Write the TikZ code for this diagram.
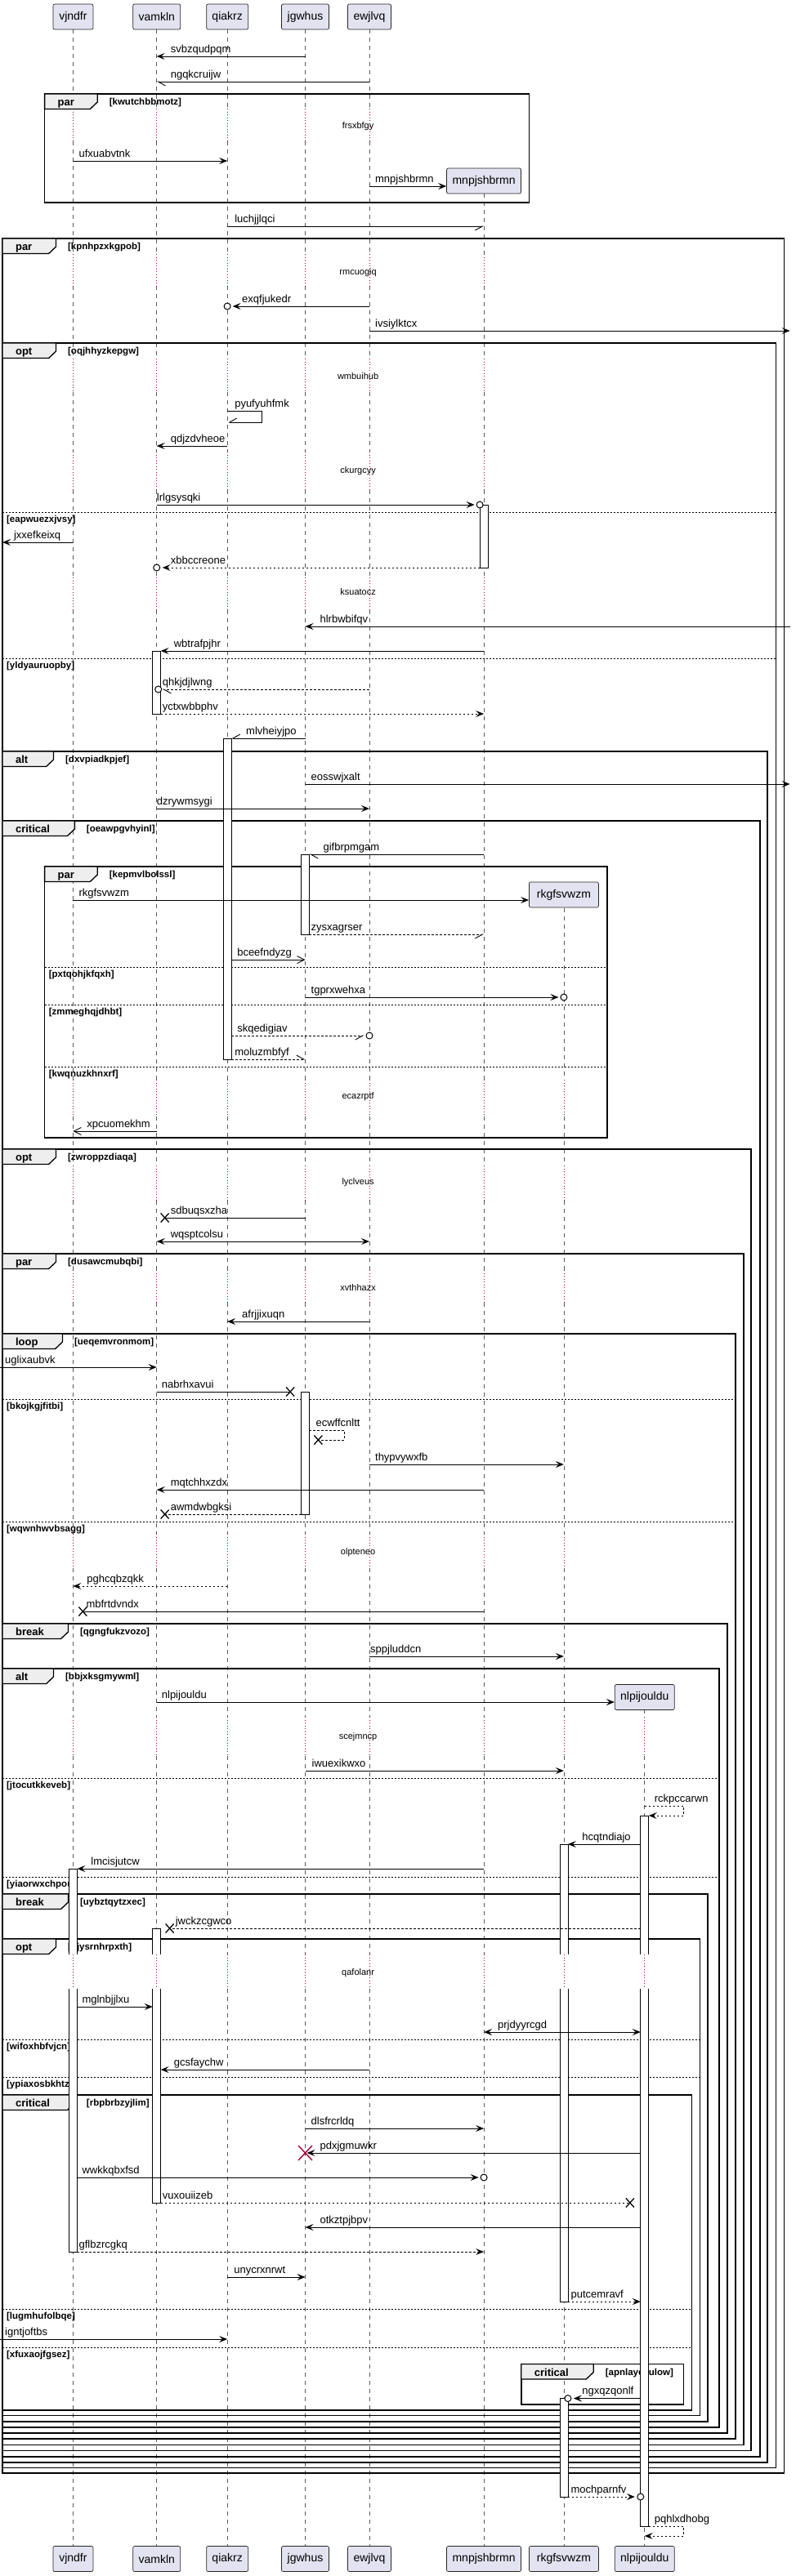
\documentclass[tikz,border=0pt]{standalone}
\usepackage{fontspec}
\setmainfont{Liberation Sans}
\usetikzlibrary{arrows.meta}
\definecolor{boxfill}{HTML}{E2E2F0}
\definecolor{tabfill}{HTML}{EEEEEE}
\definecolor{crim}{HTML}{A80036}
\newcommand\fpart{\fontsize{14}{16}\selectfont}
\newcommand\fmsg{\fontsize{13}{15}\selectfont}
\newcommand\fdel{\fontsize{11}{13}\selectfont}
\newcommand\fkw{\fontsize{13}{15}\selectfont\bfseries}
\newcommand\fcond{\fontsize{11.5}{13}\selectfont\bfseries}
\tikzset{
  tipF/.tip={Stealth[length=10pt,width=8pt,inset=4pt]},
  tipO/.tip={Straight Barb[length=9pt,width=9pt]},
  tipHL/.tip={Straight Barb[length=9pt,width=10pt,harpoon]},
  tipHR/.tip={Straight Barb[length=9pt,width=10pt,harpoon,swap]},
  lifel/.style={draw=black!65, line width=0.6pt, dash pattern=on 5pt off 5pt},
  delayl/.style={draw=crim, line width=0.8pt, dash pattern=on 1pt off 2.5pt},
  pbox/.style={draw=black!85, fill=boxfill, rounded corners=2pt, line width=0.7pt, font=\fpart, inner sep=0pt, minimum height=31pt},
  msg/.style={line width=0.9pt},
  dsh/.style={dash pattern=on 2.5pt off 2.5pt},
  lbl/.style={font=\fmsg, inner sep=0pt, anchor=base west},
  frm/.style={line width=1.5pt, draw=black},
  tabst/.style={line width=1.3pt, draw=black, fill=tabfill},
  kwst/.style={font=\fkw, inner sep=0pt, anchor=base west},
  condst/.style={font=\fcond, inner sep=0pt, anchor=base west},
  sepst/.style={line width=0.8pt, dash pattern=on 2pt off 2pt},
  barst/.style={line width=0.7pt, draw=black, fill=white},
  dly/.style={font=\fdel, inner sep=0pt}
}
\def\xA{90}\def\xB{193}\def\xC{280}\def\xD{376}\def\xE{455}\def\xF{596}\def\xG{694.5}\def\xH{794}
\newcommand\mmsg[6]{\draw[#4] (#1,#3) -- (#2,#3); \node[lbl] at (#5,#3-5) {#6};}
\newcommand\cmark[2]{\draw[line width=1pt, fill=white] (#1,#2) circle[radius=4pt];}
\newcommand\xmk[2]{\draw[line width=1.3pt] (#1-5,#2-5.5) -- (#1+5,#2+5.5) (#1-5,#2+5.5) -- (#1+5,#2-5.5);}
\newcommand\actbar[3]{\draw[barst] (#1-5,#2) rectangle (#1+5,#3);}
\newcommand\actbarg[5]{\fill[white] (#1-5,#2) rectangle (#1+5,#3);
  \draw[line width=0.7pt] (#1-5,#3) -- (#1-5,#2) -- (#1+5,#2) -- (#1+5,#3);
  \fill[white] (#1-5,#4) rectangle (#1+5,#5);
  \draw[line width=0.7pt] (#1-5,#4) -- (#1-5,#5) -- (#1+5,#5) -- (#1+5,#4);}
\newcommand\grp[7]{\draw[frm] (#1,#2) rectangle (#3,#4);
  \draw[tabst] (#1,#2) -- (#1+#5,#2) -- (#1+#5,#2+10) -- (#1+#5-9,#2+18.5) -- (#1,#2+18.5) -- cycle;
  \node[kwst] at (#1+16,#2+14.5) {#6};
  \node[condst] at (#1+#5+14.5,#2+13.5) {[#7]};}
\newcommand\els[4]{\draw[sepst] (#1,#3) -- (#2,#3);
  \node[condst] at (#1+5,#3+12.5) {[#4]};}
\def\segsAll{36/133,173/311,350/439,480/553,600/707,747/1322,1367/1427,1470/1555,1595/1878,1920/2102,2150/2393,2435/3117}
\def\dlyAll{133/173,311/350,439/480,553/600,707/747,1322/1367,1427/1470,1555/1595,1878/1920,2102/2150,2393/2435}
\def\segsF{237/311,350/439,480/553,600/707,747/1322,1367/1427,1470/1555,1595/1878,1920/2102,2150/2393,2435/3117}
\def\dlyF{311/350,439/480,553/600,707/747,1322/1367,1427/1470,1555/1595,1878/1920,2102/2150,2393/2435}
\def\segsG{1112/1322,1367/1427,1470/1555,1595/1878,1920/2102,2150/2393,2435/3117}
\def\dlyG{1322/1367,1427/1470,1555/1595,1878/1920,2102/2150,2393/2435}
\def\segsH{2093/2102,2150/2393,2435/3117}
\def\dlyH{2102/2150,2393/2435}
\begin{document}
\begin{tikzpicture}[x=0.9934pt,y=-1pt]
\useasboundingbox (0,0) rectangle (980.47,3154);
% lifelines
\foreach \x in {\xA,\xB,\xC,\xD,\xE}{
  \foreach \a/\b in \segsAll {\draw[lifel] (\x,\a) -- (\x,\b);}
  \foreach \a/\b in \dlyAll {\draw[delayl] (\x,\a) -- (\x,\b);}
}
\foreach \a/\b in \segsF {\draw[lifel] (\xF,\a) -- (\xF,\b);}
\foreach \a/\b in \dlyF {\draw[delayl] (\xF,\a) -- (\xF,\b);}
\foreach \a/\b in \segsG {\draw[lifel] (\xG,\a) -- (\xG,\b);}
\foreach \a/\b in \dlyG {\draw[delayl] (\xG,\a) -- (\xG,\b);}
\foreach \a/\b in \segsH {\draw[lifel] (\xH,\a) -- (\xH,\b);}
\foreach \a/\b in \dlyH {\draw[delayl] (\xH,\a) -- (\xH,\b);}
% delay texts
\node[dly] (d1) at (441,155) {frsxbfgy};
\node[dly] (d2) at (441,334) {rmcuogiq};
\node[dly] (d3) at (441,461) {wmbuihub};
\node[dly] (d4) at (441,577) {ckurgcyy};
\node[dly] (d5) at (441,725) {ksuatocz};
\node[dly] (d6) at (441,1343) {ecazrptf};
\node[dly] (d7) at (441,1448) {lyclveus};
\node[dly] (d8) at (441,1577) {xvthhazx};
\node[dly] (d9) at (441,1901) {olpteneo};
\node[dly] (d10) at (441,2127) {scejmncp};
\node[dly] (d11) at (441,2416) {qafolanr};
% frames
\grp{55}{115}{652}{248}{65}{par}{kwutchbbmotz}
\grp{3}{292}{966}{3028}{66}{par}{kpnhpzxkgpob}
\grp{3}{420}{956}{3021.5}{66}{opt}{oqjhhyzkepgw}
\els{3}{956}{627}{eapwuezxjvsy}
\els{3}{956}{806}{yldyauruopby}
\grp{3}{920}{945}{3015}{63}{alt}{dxvpiadkpjef}
\grp{3}{1005}{936}{3008}{89}{critical}{oeawpgvhyinl}
\grp{55}{1061}{748}{1393}{65}{par}{kepmvlbolssl}
\els{55}{748}{1184}{pxtqohjkfqxh}
\els{55}{748}{1230}{zmmeghqjdhbt}
\els{55}{748}{1306}{kwqnuzkhnxrf}
\grp{3}{1407}{925}{3000.5}{66}{opt}{zwroppzdiaqa}
\grp{3}{1535}{916}{2993.5}{66}{par}{dusawcmubqbi}
\grp{3}{1633}{906}{2986}{74}{loop}{ueqemvronmom}
\els{3}{906}{1713}{bkojkgjfitbi}
\els{3}{906}{1863}{wqwnhwvbsagg}
\grp{3}{1988}{896}{2979}{81}{break}{qgngfukzvozo}
\grp{3}{2043}{886}{2972}{63}{alt}{bbjxksgmywml}
\els{3}{886}{2177}{jtocutkkeveb}
\els{3}{886}{2298}{yiaorwxchpou}
\grp{3}{2319}{872}{2965}{81}{break}{uybztqytzxec}
\grp{3}{2374}{862}{2957.5}{66}{opt}{ojysrnhrpxth}
\els{3}{862}{2497}{wifoxhbfvjcn}
\els{3}{862}{2543}{ypiaxosbkhtz}
\grp{3}{2565}{852}{2951}{89}{critical}{rbpbrbzyjlim}
\els{3}{852}{2827}{lugmhufolbqe}
\els{3}{852}{2874}{xfuxaojfgsez}
\grp{642}{2894.5}{842}{2944}{89}{critical}{apnlaycsulow}
% activation bars
\actbar{\xF}{618}{695}
\actbar{\xB}{797}{874}
\actbar{\xC}{904}{1297}
\actbar{\xD}{1046}{1144}
\actbar{\xD}{1704}{1854}
\actbarg{\xA}{2288}{2393}{2435}{2757}
\actbarg{\xB}{2361}{2393}{2435}{2697}
\actbarg{\xG}{2258}{2393}{2435}{2818}
\actbarg{\xH}{2223}{2393}{2435}{3093}
\actbar{\xG}{2936.5}{3057}
% participants
\node[pbox, minimum width=49pt] (hA) at (\xA,20.5) {vjndfr};
\node[pbox, minimum width=58pt] (hB) at (\xB,20.5) {vamkln};
\node[pbox, minimum width=51pt] (hC) at (\xC,20.5) {qiakrz};
\node[pbox, minimum width=58pt] (hD) at (\xD,20.5) {jgwhus};
\node[pbox, minimum width=53pt] (hE) at (\xE,20.5) {ewjlvq};
\node[pbox, minimum width=91pt] (cF) at (\xF,221.5) {mnpjshbrmn};
\node[pbox, minimum width=85pt] (cG) at (\xG,1095.5) {rkgfsvwzm};
\node[pbox, minimum width=73pt] (cH) at (\xH,2078) {nlpijouldu};
\node[pbox, minimum width=49pt] (fA) at (\xA,3133) {vjndfr};
\node[pbox, minimum width=58pt] (fB) at (\xB,3133) {vamkln};
\node[pbox, minimum width=51pt] (fC) at (\xC,3133) {qiakrz};
\node[pbox, minimum width=58pt] (fD) at (\xD,3133) {jgwhus};
\node[pbox, minimum width=53pt] (fE) at (\xE,3133) {ewjlvq};
\node[pbox, minimum width=91pt] (fF) at (\xF,3133) {mnpjshbrmn};
\node[pbox, minimum width=85pt] (fG) at (\xG,3133) {rkgfsvwzm};
\node[pbox, minimum width=73pt] (fH) at (\xH,3133) {nlpijouldu};
% messages
\mmsg{\xD}{\xB}{69}{msg,-tipF}{210}{svbzqudpqm}
\mmsg{\xE}{\xB}{100}{msg,-tipHL}{210}{ngqkcruijw}
\mmsg{\xA}{\xC}{197}{msg,-tipF}{97}{ufxuabvtnk}
\draw[msg,-tipF] (\xE,228) -- (cF.west |- 0,228);
\node[lbl] at (462,223) {mnpjshbrmn};
\mmsg{\xC}{\xF}{277}{msg,-tipHR}{289}{luchjjlqci}
\mmsg{\xE}{\xC+6.5}{375}{msg,-tipF}{298}{exqfjukedr}
\cmark{\xC}{375}
\mmsg{\xE}{973}{405}{msg,-tipF}{462}{ivsiylktcx}
\draw[msg,-tipHR] (\xC,503) -- (323,503) -- (323,517) -- (\xC+1,517);
\node[lbl] at (289,498) {pyufyuhfmk};
\mmsg{\xC}{\xB}{546}{msg,-tipF}{210}{qdjzdvheoe}
\mmsg{\xB}{584.5}{618}{msg,-tipF}{193}{lrlgsysqki}
\cmark{591}{618}
\mmsg{\xA}{3}{664}{msg,-tipF}{17}{jxxefkeixq}
\mmsg{591}{\xB+7}{695}{msg,dsh,-tipF}{210}{xbbccreone}
\cmark{\xB}{695}
\mmsg{973}{\xD}{767}{msg,-tipF}{394}{hlrbwbifqv}
\mmsg{\xF}{198}{797}{msg,-tipF}{214}{wbtrafpjhr}
\mmsg{\xE}{200}{844}{msg,dsh,-tipHL}{200}{qhkjdjlwng}
\cmark{195}{844}
\mmsg{198}{\xF}{874}{msg,dsh,-tipF}{200}{yctxwbbphv}
\mmsg{\xD}{285}{904}{msg,-tipHR}{303}{mlvheiyjpo}
\mmsg{\xD}{973}{960}{msg,-tipF}{383}{eosswjxalt}
\mmsg{\xB}{\xE}{990}{msg,-tipF}{193}{dzrywmsygi}
\mmsg{\xF}{381}{1046}{msg,-tipHL}{398}{gifbrpmgam}
\draw[msg,-tipF] (\xA,1102) -- (cG.west |- 0,1102);
\node[lbl] at (97,1097) {rkgfsvwzm};
\mmsg{381}{\xF}{1144}{msg,dsh,-tipHR}{383}{zysxagrser}
\mmsg{285}{\xD}{1175}{msg,-tipO}{292}{bceefndyzg}
\mmsg{\xD}{\xG-6.5}{1221}{msg,-tipF}{383}{tgprxwehxa}
\cmark{\xG}{1221}
\mmsg{285}{\xE-6.5}{1268}{msg,dsh,-tipHR}{292}{skqedigiav}
\cmark{\xE}{1268}
\mmsg{285}{\xD}{1297}{msg,dsh,-tipHL}{289}{moluzmbfyf}
\mmsg{\xB}{\xA}{1385}{msg,-tipO}{107}{xpcuomekhm}
\mmsg{\xD}{203}{1491}{msg}{210}{sdbuqsxzha}
\xmk{203}{1491}
\mmsg{\xB}{\xE}{1520}{msg,tipF-tipF}{210}{wqsptcolsu}
\mmsg{\xE}{\xC}{1618}{msg,-tipF}{298}{afrjjixuqn}
\mmsg{0}{\xB}{1674}{msg,-tipF}{6}{uglixaubvk}
\mmsg{\xB}{357.5}{1704}{msg}{199}{nabrhxavui}
\xmk{357.5}{1704}
\draw[msg,dsh] (381,1751) -- (424,1751) -- (424,1763) -- (392,1763);
\xmk{392}{1763}
\node[lbl] at (389,1746) {ecwffcnltt};
\mmsg{\xE}{\xG}{1793}{msg,-tipF}{462}{thypvywxfb}
\mmsg{\xF}{\xB}{1824}{msg,-tipF}{210}{mqtchhxzdx}
\mmsg{371}{203}{1854}{msg,dsh}{210}{awmdwbgksi}
\xmk{203}{1854}
\mmsg{\xC}{\xA}{1942}{msg,dsh,-tipF}{107}{pghcqbzqkk}
\mmsg{\xF}{102}{1973}{msg}{106}{mbfrtdvndx}
\xmk{102}{1973}
\mmsg{\xE}{\xG}{2028}{msg,-tipF}{456}{sppjluddcn}
\draw[msg,-tipF] (\xB,2084) -- (cH.west |- 0,2084);
\node[lbl] at (199,2079) {nlpijouldu};
\mmsg{\xD}{\xG}{2168}{msg,-tipF}{384}{iwuexikwxo}
\draw[msg,dsh,-tipF] (\xH,2211) -- (842,2211) -- (842,2223) -- (799,2223);
\node[lbl] at (806,2206) {rckpccarwn};
\mmsg{789}{699.5}{2258}{msg,-tipF}{717}{hcqtndiajo}
\mmsg{\xF}{95}{2288}{msg,-tipF}{112}{lmcisjutcw}
\mmsg{789}{209}{2361}{msg,dsh}{216}{jwckzcgwco}
\xmk{209}{2361}
\mmsg{95}{188}{2457}{msg,-tipF}{101}{mglnbjjlxu}
\mmsg{\xF}{789}{2488}{msg,tipF-tipF}{613}{prjdyyrcgd}
\mmsg{\xE}{198}{2534}{msg,-tipF}{214}{gcsfaychw}
\mmsg{\xD}{\xF}{2606}{msg,-tipF}{383}{dlsfrcrldq}
\mmsg{789}{\xD+2}{2636}{msg,-tipF}{394}{pdxjgmuwkr}
\draw[crim, line width=1.4pt] (\xD-8.5,2627) -- (\xD+8.5,2645) (\xD-8.5,2645) -- (\xD+8.5,2627);
\mmsg{95}{\xF-6.5}{2666}{msg,-tipF}{101}{wwkkqbxfsd}
\cmark{\xF}{2666}
\mmsg{198}{776}{2697}{msg,dsh}{200}{vuxouiizeb}
\xmk{776}{2697}
\mmsg{789}{\xD}{2727}{msg,-tipF}{394}{otkztpjbpv}
\mmsg{95}{\xF}{2757}{msg,dsh,-tipF}{97}{gflbzrcgkq}
\mmsg{\xC}{\xD}{2788}{msg,-tipF}{288}{unycrxnrwt}
\mmsg{699.5}{789}{2818}{msg,dsh,-tipF}{703}{putcemravf}
\mmsg{0}{\xC}{2864}{msg,-tipF}{6}{igntjoftbs}
\mmsg{789}{706.5}{2936.5}{msg,-tipF}{717}{ngxqzqonlf}
\cmark{699.5}{2936.5}
\mmsg{699.5}{782}{3057}{msg,dsh,-tipF}{703}{mochparnfv}
\cmark{789}{3057}
\draw[msg,dsh,-tipF] (799,3093) -- (842,3093) -- (842,3105) -- (\xH,3105);
\node[lbl] at (806,3088) {pqhlxdhobg};
\end{tikzpicture}
\end{document}
